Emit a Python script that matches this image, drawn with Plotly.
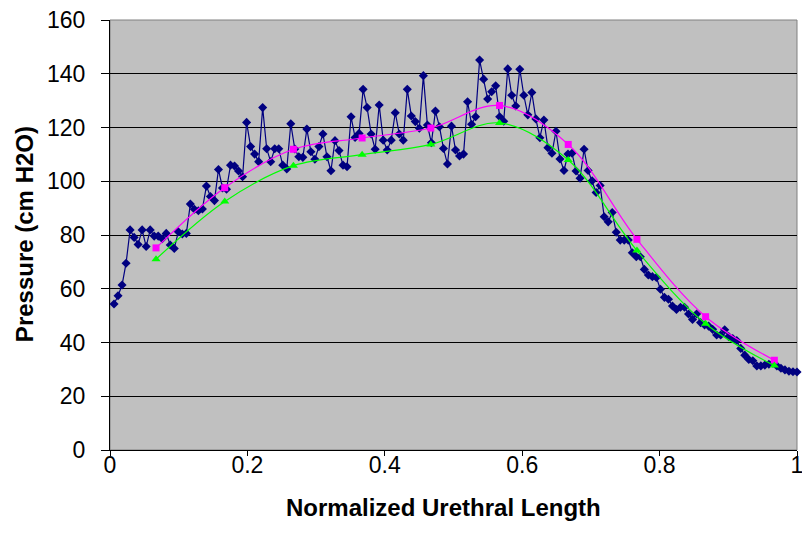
import plotly.graph_objects as go

# Measured pressure profile (dark blue diamonds), sampled evenly along the urethra
pressure_measured = [
    54.3, 57.4, 61.4, 69.5, 81.9, 79.1, 76.5, 81.9, 75.7, 81.9,
    79.6, 79.6, 78.6, 80.6, 76.3, 75.0, 81.2, 80.4, 80.6, 91.5,
    89.6, 89.0, 89.7, 98.2, 94.3, 92.8, 104.4, 97.5, 97.0, 106.0,
    105.7, 103.8, 101.7, 121.9, 112.9, 110.1, 107.3, 127.4, 112.1, 107.3,
    112.1, 112.1, 106.0, 104.6, 121.4, 112.0, 109.1, 108.9, 119.4, 111.0,
    108.2, 112.9, 117.6, 109.1, 103.9, 115.1, 111.4, 106.0, 105.4, 124.0,
    116.3, 117.8, 134.2, 127.4, 117.6, 111.9, 128.4, 115.3, 111.6, 115.3,
    125.5, 117.6, 115.3, 134.2, 124.3, 122.2, 119.7, 139.3, 120.9, 114.3,
    126.1, 120.3, 112.2, 106.4, 120.5, 111.6, 109.4, 110.1, 129.6, 121.2,
    124.0, 145.1, 138.0, 130.6, 133.3, 135.5, 124.0, 122.3, 141.8, 132.0,
    128.0, 141.7, 132.0, 124.7, 133.0, 123.2, 116.2, 122.8, 112.5, 110.4,
    118.6, 108.3, 104.0, 110.1, 110.4, 103.8, 101.1, 111.9, 104.0, 100.2,
    95.8, 98.4, 86.8, 84.9, 88.4, 81.0, 78.1, 78.1, 78.1, 73.4,
    71.9, 71.9, 67.2, 65.1, 64.5, 64.2, 59.8, 56.8, 56.1, 53.6,
    52.3, 53.1, 53.1, 50.6, 48.6, 50.6, 47.4, 46.5, 46.1, 44.9,
    42.8, 42.8, 44.7, 42.2, 41.5, 40.7, 37.8, 35.3, 33.7, 33.2,
    31.3, 31.3, 31.6, 31.9, 32.3, 31.3, 30.4, 29.8, 29.3, 29.1,
    29.0,
]
n_samples = len(pressure_measured)
length_measured = [(i + 1) / n_samples for i in range(n_samples)]

# Decile averages (magenta squares, green triangles)
length_decile = [0.067, 0.167, 0.267, 0.367, 0.467, 0.567, 0.667, 0.767, 0.867, 0.967]
pressure_magenta = [75.2, 97.6, 111.9, 116.1, 119.8, 128.2, 113.7, 78.4, 49.6, 33.4]
pressure_green = [71.0, 92.5, 105.8, 109.9, 113.7, 121.7, 107.9, 74.2, 47.0, 31.4]

y_ticks = [0, 20, 40, 60, 80, 100, 120, 140, 160]
x_ticks = [0, 0.2, 0.4, 0.6, 0.8, 1.0]
x_tick_text = ["0", "0.2", "0.4", "0.6", "0.8", "1"]

FONT = "Arial, Liberation Sans, sans-serif"

fig = go.Figure()
fig.add_trace(go.Scatter(
    x=length_measured, y=pressure_measured, mode="lines+markers",
    line=dict(color="#000080", width=1.2),
    marker=dict(symbol="diamond", size=7, color="#000080"),
    showlegend=False, cliponaxis=False,
))
fig.add_trace(go.Scatter(
    x=length_decile, y=pressure_magenta, mode="lines+markers",
    line=dict(color="#FF00FF", width=1.2, shape="spline", smoothing=1.0),
    marker=dict(symbol="square", size=7, color="#FF00FF"),
    showlegend=False,
))
fig.add_trace(go.Scatter(
    x=length_decile, y=pressure_green, mode="lines+markers",
    line=dict(color="#00FF00", width=1.2, shape="spline", smoothing=1.0),
    marker=dict(symbol="triangle-up", size=8, color="#00FF00"),
    showlegend=False,
))

fig.add_shape(type="rect", xref="paper", yref="paper", x0=0, x1=1, y0=0, y1=1,
              line=dict(color="#808080", width=1), layer="below")

fig.update_layout(
    width=802, height=542,
    margin=dict(l=110, r=5, t=20, b=92, autoexpand=False),
    paper_bgcolor="white", plot_bgcolor="#C0C0C0",
    font=dict(family=FONT, size=23, color="black"),
    xaxis=dict(
        range=[0, 1], tickvals=x_ticks, ticktext=x_tick_text,
        showgrid=False, zeroline=False, showline=True, linecolor="black", linewidth=1,
        ticks="outside", ticklen=5, tickcolor="black", tickfont=dict(size=23),
        ticklabelstandoff=-11, ticklabeloverflow="allow", automargin=False,
    ),
    yaxis=dict(
        range=[0, 160], tickvals=y_ticks,
        showgrid=True, gridcolor="black", gridwidth=1, zeroline=False,
        showline=True, linecolor="black", linewidth=1,
        ticks="outside", ticklen=8, tickcolor="black", tickfont=dict(size=23),
        ticklabelstandoff=11, automargin=False,
    ),
    annotations=[
        dict(text="<b>Normalized Urethral Length</b>", xref="paper", yref="paper",
             x=0.486, y=-0.1326, xanchor="center", yanchor="middle", showarrow=False,
             font=dict(size=24, family=FONT)),
        dict(text="<b>Pressure (cm H2O)</b>", xref="paper", yref="paper",
             x=-0.1252, y=0.502, xanchor="center", yanchor="middle", showarrow=False,
             textangle=-90, font=dict(size=24, family=FONT)),
    ],
)

fig.write_html("out.html")
